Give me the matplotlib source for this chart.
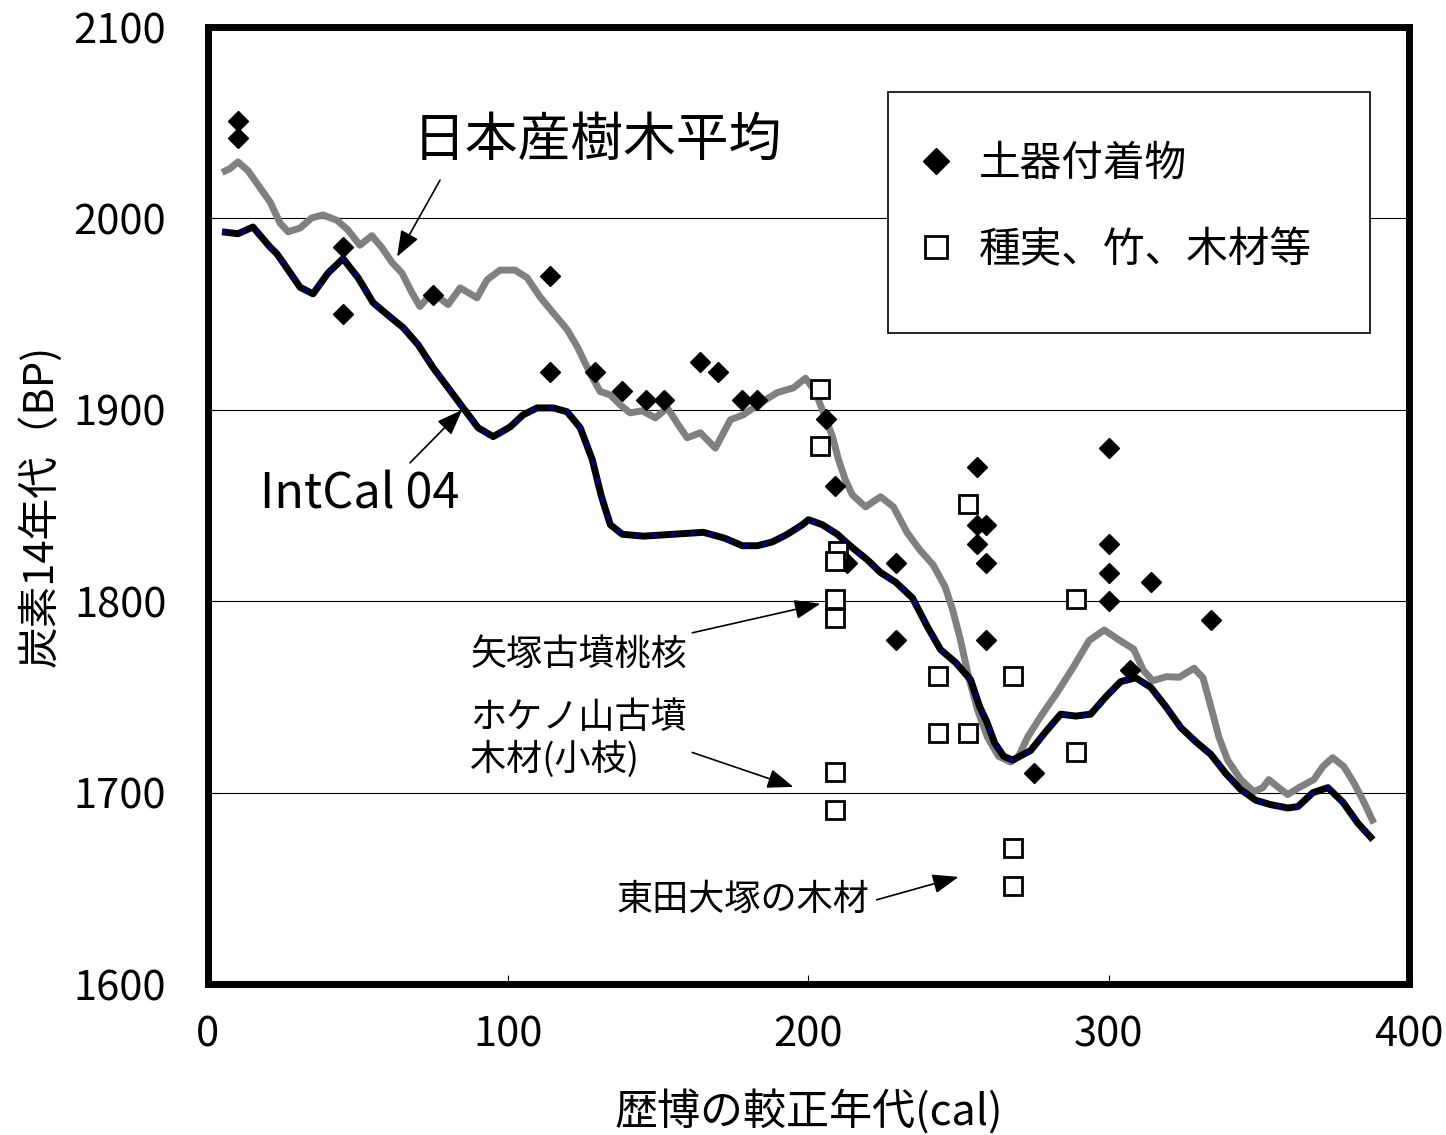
import matplotlib
matplotlib.use("Agg")
import matplotlib.pyplot as plt
from matplotlib.patches import Rectangle

plt.rcParams['font.family'] = ['Noto Sans CJK JP', 'DejaVu Sans']

# IntCal04 calibration curve (cal year, 14C BP)
intcal_x = [4.7, 10, 15, 20.7, 22.8, 25, 30.7, 35, 40, 45, 50, 55, 60.6, 65, 70, 75, 80, 85, 90,
            95, 100.6, 105, 109.6, 115, 119.6, 124, 128, 131, 134, 138, 145, 155, 165, 172, 178,
            183, 188, 193, 198, 200, 204.6, 209.6, 214.6, 219.6, 224, 229, 234.6, 239.6, 244, 249,
            254, 257, 259.5, 262, 265, 268, 274, 279, 284, 289, 294, 299, 304, 309, 314, 319, 324,
            329, 334, 339, 344, 349, 354, 359.6, 363, 368, 373, 378, 383, 388]
intcal_y = [1993, 1992, 1995.5, 1985, 1981.8, 1977, 1964, 1960.6, 1971.5, 1979, 1969, 1956, 1948.6,
            1943, 1934, 1922, 1911.5, 1901, 1890.6, 1886, 1891, 1897.4, 1901, 1901, 1899, 1890.6,
            1874, 1855, 1840, 1835, 1834, 1835, 1836, 1833, 1829, 1829, 1831, 1835, 1840, 1842.6,
            1840, 1835, 1828, 1821.7, 1815, 1810, 1801.8, 1786.7, 1774.7, 1768, 1759, 1745, 1736.6,
            1726, 1719, 1717, 1722, 1731.8, 1741, 1740, 1741, 1750, 1758, 1760, 1755, 1745, 1734,
            1726.6, 1720, 1710, 1701.6, 1696, 1693.7, 1692, 1692.7, 1700, 1702.6, 1695, 1684, 1675.4]

# Japanese tree-ring average
japan_x = [4.7, 7.3, 10, 13.3, 16.7, 20.7, 24, 26.7, 30.7, 34.6, 38.3, 43, 46.6, 50.6, 54.6, 58,
           61.3, 64.6, 68, 70.6, 74, 76.6, 80, 84, 86.3, 89.6, 93, 97.3, 102.3, 106.3, 110.6, 115,
           119.6, 123, 127.3, 130.6, 134, 137.3, 140.6, 144.6, 149, 153, 156.3, 159.6, 164, 169,
           174, 178.3, 184, 189.6, 195, 199, 202.3, 205, 208, 210, 212.3, 214.6, 219, 224, 228.3,
           232.8, 237, 241.5, 245.5, 248, 250.6, 253.3, 256.3, 259.6, 263.3, 267.3, 270, 273,
           277.3, 283, 288.3, 293.5, 298.5, 303.7, 308.3, 311.5, 314.6, 319.2, 323.5, 328.4, 331.4,
           334, 336.7, 339.6, 344, 348.3, 351.3, 353.3, 356.3, 359.6, 363.3, 368.3, 371.3, 374.6,
           378.3, 381.6, 385, 388.3]
japan_y = [2024, 2026, 2029.5, 2025, 2017.5, 2008.6, 1997.6, 1993, 1995, 2000.3, 2001.8, 1999, 1994,
           1986, 1991, 1984.6, 1977, 1971.5, 1961, 1954, 1960, 1959, 1955, 1963.7, 1961.6, 1958.5,
           1968, 1973, 1973, 1969, 1959, 1950.6, 1942, 1933, 1919, 1909.6, 1907.8, 1902.6, 1898.4,
           1899.5, 1895.8, 1901, 1893, 1885.4, 1888, 1880, 1894.8, 1897.4, 1903.6, 1909, 1911.5,
           1916.5, 1909.6, 1898.4, 1886, 1874, 1863.4, 1855.6, 1849.3, 1854.6, 1849.3, 1836, 1827,
           1819, 1807.6, 1795.6, 1780, 1760.6, 1743.3, 1729, 1719, 1716, 1719, 1729, 1739.7, 1752.7,
           1765.8, 1779.5, 1785, 1779.5, 1775, 1764, 1758.5, 1760.6, 1760.3, 1765, 1760, 1745, 1729,
           1717, 1706.8, 1700.5, 1702.6, 1706.8, 1703, 1699, 1702.6, 1706.8, 1713.6, 1718.3, 1713.6,
           1705.3, 1695, 1684]

# Residue on pottery
pottery_x = [10, 10, 45, 45, 75, 114, 114, 129, 138, 146, 152, 164, 170, 178, 183, 206, 209, 213,
             229, 229, 256, 256, 259, 256, 259, 259, 275, 300, 300, 300, 300, 307, 314, 334]
pottery_y = [2051, 2042, 1985, 1950, 1960, 1970, 1920, 1920, 1910, 1905, 1905, 1925, 1920, 1905,
             1905, 1895, 1860, 1820, 1820, 1780, 1870, 1840, 1840, 1830, 1820, 1780, 1710, 1880,
             1830, 1815, 1800, 1764, 1810, 1790]

# Seeds, bamboo, wood etc.
seeds_x = [204, 204, 210, 209, 209, 209, 209, 209, 253, 243, 243, 253, 268, 268, 268, 289, 289]
seeds_y = [1911, 1881, 1826, 1821, 1801, 1791, 1711, 1691, 1851, 1761, 1731, 1731, 1761, 1671,
           1651, 1801, 1721]

x_ticks = [0, 100, 200, 300, 400]
y_ticks = [1600, 1700, 1800, 1900, 2000, 2100]

fig = plt.figure(figsize=(14.46, 11.35), dpi=100)
ax = fig.add_axes([0.1438, 0.1330, 0.8306, 0.8432])

ax.plot(japan_x, japan_y, color='#808080', lw=5, solid_capstyle='butt',
        solid_joinstyle='round', zorder=2)
ax.plot(intcal_x, intcal_y, color='black', lw=5, solid_capstyle='butt',
        solid_joinstyle='round', zorder=3)
ax.plot(intcal_x, intcal_y, color='#000080', lw=3, dashes=(1.3, 3.2), zorder=3.5)

ax.plot(pottery_x, pottery_y, 'D', ms=10.5, color='black', ls='none',
        label='土器付着物', zorder=5)
ax.plot(seeds_x, seeds_y, 's', ms=12.5, mfc='white', mec='black', mew=2, ls='none',
        label='種実、竹、木材等', zorder=5)

ax.set_xlim(0, 400)
ax.set_ylim(1600, 2100)
ax.set_xticks(x_ticks)
ax.set_yticks(y_ticks)
ax.yaxis.grid(True, color='black', lw=0.8)
ax.set_axisbelow(True)
for s in ax.spines.values():
    s.set_linewidth(5)
    s.set_capstyle('projecting')
ax.tick_params(direction='in', length=6.5, width=0.8, labelsize=30)
ax.tick_params(axis='x', pad=22)
ax.tick_params(axis='y', pad=30)

ax.set_xlabel('歴博の較正年代(cal)', fontsize=31)
ax.set_ylabel('炭素14年代（BP)', fontsize=30)
ax.xaxis.set_label_coords(0.5, -0.111)
ax.yaxis.set_label_coords(-0.122, 0.5)

# Curve labels and pointers
ax.text(68.3, 2041, '日本産樹木平均', fontsize=38, ha='left', va='center')
ax.text(17.3, 1855.6, 'IntCal 04', fontsize=35, ha='left', va='center')
ax.text(87.3, 1772, '矢塚古墳桃核', fontsize=26, ha='left', va='center')
ax.text(87.3, 1739.2, 'ホケノ山古墳', fontsize=26, ha='left', va='center')
ax.text(87.3, 1717.2, '木材(小枝)', fontsize=26, ha='left', va='center')
ax.text(136.2, 1644.1, '東田大塚の木材', fontsize=26, ha='left', va='center')

arrow = dict(arrowstyle='-|>,head_length=0.4,head_width=0.15', mutation_scale=40,
             lw=1.2, color='black', shrinkA=0, shrinkB=0)
for head, tail in [((63, 1980), (77.3, 2020)),
                   ((84.7, 1900), (67.3, 1872.3)),
                   ((204, 1798.7), (161.3, 1783.5)),
                   ((195, 1703), (161.3, 1721)),
                   ((250, 1656), (222.7, 1644))]:
    ax.annotate('', xy=head, xytext=tail, arrowprops=arrow, zorder=4)

# Legend box
ax.add_patch(Rectangle((0.566, 0.680), 0.4015, 0.252, transform=ax.transAxes,
                       facecolor='white', edgecolor='black', lw=1.2, zorder=6))
leg = ax.legend(loc='upper left', bbox_to_anchor=(0.589, 0.878), frameon=False,
                fontsize=30, handlelength=1.0, handletextpad=0.53, labelspacing=1.08,
                markerscale=1.3, borderpad=0, borderaxespad=0)
leg.set_zorder(7)

fig.savefig('out.png', dpi=100)
